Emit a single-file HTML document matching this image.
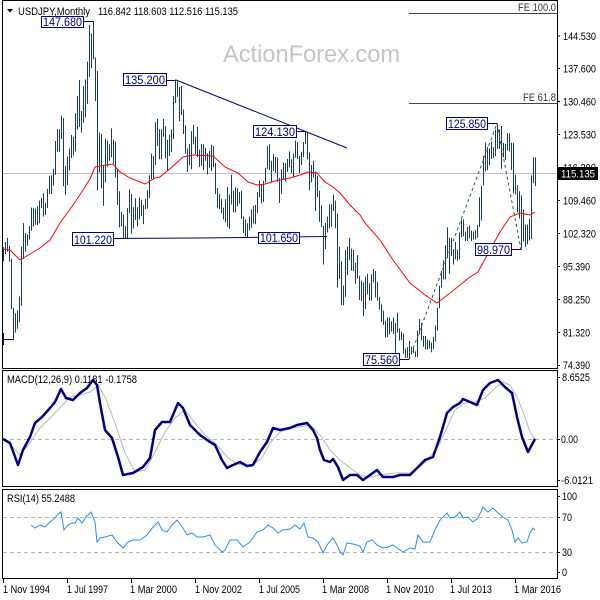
<!DOCTYPE html>
<html><head><meta charset="utf-8"><style>
html,body{margin:0;padding:0;background:#fff;}
svg{display:block;font-family:"Liberation Sans",sans-serif;}
</style></head><body>
<svg width="600" height="600" viewBox="0 0 600 600" xmlns="http://www.w3.org/2000/svg">
<rect x="0" y="0" width="600" height="600" fill="#fff"/>

<!-- watermark -->
<text x="223" y="62" font-size="24" fill="#c4c4c4" textLength="177" lengthAdjust="spacingAndGlyphs">ActionForex.com</text>

<!-- current price line -->
<line x1="3" y1="173.5" x2="557" y2="173.5" stroke="#c0c0c0" stroke-width="1"/>

<!-- FE lines -->
<line x1="409" y1="13.5" x2="557" y2="13.5" stroke="#2f4f4f" stroke-width="1"/>
<line x1="409" y1="103.5" x2="557" y2="103.5" stroke="#2f4f4f" stroke-width="1"/>
<text x="518" y="11" font-size="11" fill="#333" textLength="38" lengthAdjust="spacingAndGlyphs">FE 100.0</text>
<text x="523" y="101" font-size="11" fill="#333" textLength="33" lengthAdjust="spacingAndGlyphs">FE 61.8</text>

<!-- price bars -->
<g transform="matrix(1 0 0 -4.695 0.5 714.26)">
<path fill="none" stroke="#173f5a" stroke-width="1" vector-effect="non-scaling-stroke" d="M3 99.5V96.5M5 100.6V98M7 101.5V98.5M9 99.8V96.4M11 97V86.3M13 86.5V79.75M15 85.4V81.3M17 86V82.1M19 89V83.5M21 99.6V87M23 104.6V97M25 102.5V98.5M27 102.2V99.8M29 104V101.1M31 107.9V103M33 107.8V103.9M35 107.7V104.3M37 108.2V104.2M39 109.4V104.6M41 110V107.8M43 111V106M45 108.9V106.3M47 111.9V107.8M49 114.7V110.8M51 114.8V110.8M53 116.2V112.6M55 122.1V114.9M57 124.6V119.8M59 124.6V119.8M61 127.5V122.5M63 127V112.5M65 116.8V110.6M67 118.8V112.7M69 120.5V115.8M71 123.4V118.5M73 123V119M75 128V119.9M77 131.7V124.5M79 135.1V125.1M81 128.5V123.9M83 133.8V126M85 135.2V127.1M87 139V130M89 146.8V135.7M91 145V137.6M93 147.68V139.5M95 139.9V130.6M97 137V111.6M99 123.9V115.4M101 123.6V112M103 117V108.3M105 122.6V113.3M107 122.2V116.6M109 121.4V117.9M111 124.8V118.6M113 122.4V117.3M115 122V114.3M117 116.1V108.5M119 111.4V103.7M121 107V103.9M123 106.4V101.3M125 104V101.3M127 107.8V101.22M129 111.8V106.7M131 110.8V102.4M133 108V103.5M135 109.9V105.3M137 108V103.9M139 110.1V105.4M141 109.6V106.1M143 108.5V104.4M145 109.8V107.6M147 111.6V107.7M149 114.8V110M151 119.4V114M153 118.9V114M155 126.1V117M157 126.8V121M159 124.6V118.2M161 124.6V118.2M163 126.8V123M165 125.3V118.4M167 122.4V115.8M169 123.5V118.9M171 124.6V119.8M173 131.7V122.5M175 135.2V130.2M177 134.8V131.5M179 133.6V126.3M181 133.8V127.6M183 128.8V123.6M185 125.4V119.4M187 120.5V115.5M189 121.5V116.9M191 124.2V116.1M193 125.6V121.4M195 123V119.3M197 125.1V118.7M199 120.3V116.6M201 121.5V116.8M203 121.4V115.9M205 120.6V117.9M207 119.5V115M209 120V116.4M211 121.3V115.7M213 121V116.5M215 117.4V110.8M217 112.1V107.9M219 110.8V107.6M221 109.8V106.7M223 107.9V105.4M225 109.7V104.8M227 112.3V103.8M229 110.7V103.4M231 114.9V108.6M233 111.5V106.9M235 112.2V106.9M237 112V108.2M239 111.2V108.8M241 111.5V105.5M243 106V102.5M245 105.4V101.8M247 104.6V101.65M249 106V103.1M251 107.5V103.6M253 108.3V104.5M255 108.5V104.4M257 111.2V106.7M259 113.7V110.1M261 112.9V108.8M263 113.6V109.1M265 116.4V113.3M267 121V116.2M269 121.4V115.9M271 117.9V113.4M273 119.3V115.7M275 118.7V115.3M277 118.6V113.4M279 114.3V108.9M281 116.1V110.8M283 117.5V113.9M285 117.4V113.5M287 118.3V115.5M289 119.9V116.5M291 118.2V115.3M293 119.4V114.5M295 122.2V118.5M297 121.9V118.3M299 118.9V115.2M301 119.8V117M303 121.9V118.7M305 124.13V121.5M307 123.8V118.2M309 119.7V111.6M311 117V113.3M313 117.9V114.3M315 115.6V107.2M317 114.7V110.2M319 111.5V104.9M321 108.4V103.8M323 104V95.8M325 104.7V99.1M327 106V102.6M329 108.6V103.5M331 108.6V103.8M333 110.7V107.2M335 109.4V103.5M337 106.6V90.9M339 99.6V92.7M341 96.5V87.1M343 91.3V87.1M345 98.9V88.9M347 99.6V93.5M349 101.5V96.7M351 99.2V94.5M353 98.9V94.4M355 96.2V91.7M357 97.8V92.8M359 93.4V88.2M361 92.3V88M363 92V84.8M365 93.2V86.3M367 93.8V89.4M369 91.8V88.1M371 93.7V88.1M373 94.8V92M375 94.4V88.8M377 92.1V88.1M379 88.9V86.2M381 87.3V83.6M383 86V82.9M385 83.8V80.2M387 84.5V80.3M389 84.5V80.9M391 83.7V81.5M393 84.5V81M395 83.3V76.3M397 85.5V81.3M399 82.2V79.6M401 81.5V79.7M403 81.1V76.8M405 77.9V75.9M407 78.2V75.9M409 79.5V75.56M411 78.3V76.6M413 78.3V76.9M415 77.3V76.1M417 81.7V76.1M419 84.2V80.9M421 83.3V79.6M423 80.6V78.3M425 80.6V77.7M427 79.8V77.7M429 79.6V77.9M431 79.2V77.1M433 80.4V77.8M435 82.8V79.4M437 86.6V81.7M439 91.3V86.5M441 94.5V90.9M443 96.7V92.6M445 99.9V92.6M447 103.7V97.2M449 101.5V93.8M451 101.5V97.6M453 99.1V95.8M455 100.6V96.9M457 99V96.6M459 102.6V96.9M461 105.4V101.6M463 105.4V101.8M465 102.8V100.8M467 103.8V100.8M469 104.1V101.4M471 103V100.8M473 102.8V101.1M475 103.1V101.1M477 104.2V101.5M479 110.1V103.8M481 112.5V105.2M483 118.9V112.6M485 121.8V115.6M487 120.8V115.9M489 120.5V116.9M491 122V118.3M493 120.8V118.5M495 124.5V118.9M497 125.85V120.4M499 124.6V120.4M501 125.3V116.2M503 121.7V118.6M505 121.5V118.1M507 123.8V120.1M509 123.7V119.9M511 121.7V115.9M513 121.7V110.98M515 114.9V110.7M517 112.7V106.9M519 111.4V105.6M521 110.5V98.97M523 107.5V100.7M525 104.3V99.5M527 104.3V100.1M529 105.5V100.9M531 114.8V101.2M533 118.66V113.1M535 118.6V112.5"/>
</g>

<!-- moving average -->
<polyline fill="none" stroke="#ff0000" stroke-width="1" points="3,249 10,250 20,260 30,254 40,248 50,240 60,223 73,205 83,190 90,179 95,167 100,166 113,164 120,172 130,178 145,184 155,178 160,177 172,167 183,157 193,155 213,156 225,167 238,173 248,182 257,185 265,184 275,181 290,178 300,175 308,172 317,173 325,182 333,187 340,193 350,205 360,215 365,223 380,240 393,260 410,283 425,295 437,303 450,293 470,277 478,272 490,250 500,232 510,217 520,213 530,215 535,212"/>

<!-- fib dashed -->
<polyline fill="none" stroke="#2f4f4f" stroke-width="1" stroke-dasharray="3,3" points="409,359.5 497,123.5 521,249.5"/>

<!-- trendlines -->
<line x1="176" y1="80" x2="347" y2="148" stroke="#000080" stroke-width="1"/>
<polyline fill="none" stroke="#000080" stroke-width="1" points="113,238.5 200,238 327,236.5"/>
<line x1="3" y1="339.5" x2="13" y2="339.5" stroke="#000080" stroke-width="1"/>
<line x1="3.5" y1="333" x2="3.5" y2="345" stroke="#000080" stroke-width="1"/>

<!-- label connectors -->
<g stroke="#000080" stroke-width="1">
<line x1="83" y1="21.5" x2="93" y2="21.5"/>
<line x1="166" y1="80.5" x2="176" y2="80.5"/>
<line x1="296" y1="131.5" x2="305" y2="131.5"/>
<line x1="487" y1="123.5" x2="497" y2="123.5"/>
<line x1="511" y1="249.5" x2="521" y2="249.5"/>
<line x1="399" y1="359.5" x2="409" y2="359.5"/>
</g>

<!-- label boxes -->
<g fill="#fff" stroke="#000080" stroke-width="1">
<rect x="41.5" y="16.5" width="42" height="11"/>
<rect x="123.5" y="73.5" width="43" height="12"/>
<rect x="253.5" y="125.5" width="43" height="12"/>
<rect x="72.5" y="232.5" width="41" height="13"/>
<rect x="258.5" y="232.5" width="41" height="11"/>
<rect x="446.5" y="117.5" width="41" height="12"/>
<rect x="475.5" y="243.5" width="36" height="12"/>
<rect x="363.5" y="353.5" width="36" height="12"/>
</g>
<g fill="#000080" font-size="12">
<text x="43" y="26" textLength="39" lengthAdjust="spacingAndGlyphs">147.680</text>
<text x="125" y="84" textLength="40" lengthAdjust="spacingAndGlyphs">135.200</text>
<text x="255" y="136" textLength="40" lengthAdjust="spacingAndGlyphs">124.130</text>
<text x="74" y="244" textLength="38" lengthAdjust="spacingAndGlyphs">101.220</text>
<text x="260" y="242" textLength="38" lengthAdjust="spacingAndGlyphs">101.650</text>
<text x="448" y="128" textLength="38" lengthAdjust="spacingAndGlyphs">125.850</text>
<text x="477" y="254" textLength="33" lengthAdjust="spacingAndGlyphs">98.970</text>
<text x="365" y="364" textLength="33" lengthAdjust="spacingAndGlyphs">75.560</text>
</g>

<!-- header -->
<polygon points="7,9 13,9 10,12.5" fill="#000"/>
<text x="18" y="15" font-size="11" fill="#000" textLength="72" lengthAdjust="spacingAndGlyphs">USDJPY,Monthly</text>
<text x="98" y="15" font-size="11" fill="#000" textLength="140" lengthAdjust="spacingAndGlyphs">116.842 118.603 112.516 115.135</text>

<!-- MACD panel -->
<line x1="3" y1="439.5" x2="557" y2="439.5" stroke="#b4b4b4" stroke-width="1" stroke-dasharray="4,3"/>
<polyline fill="none" stroke="#b8b8b8" stroke-width="1" points="3,440 10,444 20,455 30,443 40,428 55,413 70,397 80,395 90,392 98,385 105,397 115,423 125,453 135,472 145,470 155,452 165,432 175,418 185,410 195,423 205,435 215,443 228,458 240,465 252,465 262,458 270,443 280,432 290,428 300,427 310,425 320,435 330,450 340,460 350,468 360,475 370,477 380,475 395,473 410,473 420,467 430,457 440,443 448,425 455,410 465,403 475,402 485,398 495,388 503,382 510,385 517,397 525,417 530,432 535,439"/>
<polyline fill="none" stroke="#000080" stroke-width="2.5" stroke-linejoin="round" points="3,439 10,443 18,465 23,450 30,437 35,423 42,417 50,408 55,402 61,389 66,398 73,400 80,393 87,388 93,380 97,385 100,403 105,430 112,438 118,457 123,475 133,473 143,467 150,458 155,430 162,422 170,422 178,403 183,408 190,425 200,435 210,442 215,445 222,460 227,468 233,465 240,462 247,466 253,465 260,452 267,442 273,428 280,430 290,428 297,425 307,423 313,430 317,438 320,450 324,460 330,462 333,459 338,467 343,480 350,475 357,475 363,480 370,475 377,470 383,477 393,477 400,475 410,475 417,468 425,460 433,457 440,437 447,413 453,407 460,403 463,399 470,402 477,405 483,390 490,383 498,380 505,387 512,393 517,417 522,437 528,452 535,439"/>
<text x="7" y="383" font-size="11" fill="#000" textLength="130" lengthAdjust="spacingAndGlyphs">MACD(12,26,9) 0.1181 -0.1758</text>

<!-- RSI panel -->
<line x1="3" y1="517.5" x2="557" y2="517.5" stroke="#b4b4b4" stroke-width="1" stroke-dasharray="4,3"/>
<line x1="3" y1="552.5" x2="557" y2="552.5" stroke="#b4b4b4" stroke-width="1" stroke-dasharray="4,3"/>
<polyline fill="none" stroke="#1e90ff" stroke-width="1" points="31,525 35,528 40,525 45,527 50,522 55,518 58,514 61,512 64,530 68,525 72,523 75,523 78,518 82,523 86,517 91,512 95,522 97,542 100,538 105,537 112,535 117,542 123,548 128,542 133,540 140,540 147,535 153,527 158,522 162,530 167,532 172,525 177,520 183,528 187,535 192,533 197,537 203,537 210,535 215,545 222,552 225,550 230,540 237,540 243,547 250,542 257,532 263,530 268,525 273,528 278,533 283,530 290,529 295,525 300,529 304,523 308,537 313,538 318,542 323,553 327,545 333,538 337,545 340,552 343,555 347,543 353,544 360,546 363,552 367,542 372,540 377,545 383,548 388,547 393,545 397,548 403,552 410,548 415,549 418,535 423,542 430,542 435,530 440,520 447,513 450,518 455,517 460,512 463,518 468,517 473,522 478,518 483,507 488,512 493,508 498,513 503,517 508,520 512,530 515,542 518,538 522,543 527,542 530,533 533,528 535,530"/>
<text x="7" y="502" font-size="11" fill="#000" textLength="68" lengthAdjust="spacingAndGlyphs">RSI(14) 55.2488</text>

<!-- frames -->
<g fill="none" stroke="#000" stroke-width="1">
<rect x="2.5" y="0.5" width="555" height="368"/>
<rect x="2.5" y="370.5" width="555" height="116"/>
<rect x="2.5" y="489.5" width="555" height="89"/>
</g>

<!-- right axis ticks -->
<g stroke="#000" stroke-width="1">
<line x1="557" y1="36" x2="560" y2="36"/>
<line x1="557" y1="68.5" x2="560" y2="68.5"/>
<line x1="557" y1="101.5" x2="560" y2="101.5"/>
<line x1="557" y1="134.5" x2="560" y2="134.5"/>
<line x1="557" y1="200.5" x2="560" y2="200.5"/>
<line x1="557" y1="233.5" x2="560" y2="233.5"/>
<line x1="557" y1="266.5" x2="560" y2="266.5"/>
<line x1="557" y1="299.5" x2="560" y2="299.5"/>
<line x1="557" y1="332.5" x2="560" y2="332.5"/>
<line x1="557" y1="365.5" x2="560" y2="365.5"/>
<line x1="557" y1="377.5" x2="560" y2="377.5"/>
<line x1="557" y1="439.5" x2="560" y2="439.5"/>
<line x1="557" y1="480.5" x2="560" y2="480.5"/>
<line x1="557" y1="496.5" x2="560" y2="496.5"/>
<line x1="557" y1="517.5" x2="560" y2="517.5"/>
<line x1="557" y1="552.5" x2="560" y2="552.5"/>
<line x1="557" y1="572.5" x2="560" y2="572.5"/>
<!-- date ticks -->
<line x1="3.5" y1="579" x2="3.5" y2="583"/>
<line x1="67.5" y1="579" x2="67.5" y2="583"/>
<line x1="131.5" y1="579" x2="131.5" y2="583"/>
<line x1="195.5" y1="579" x2="195.5" y2="583"/>
<line x1="259.5" y1="579" x2="259.5" y2="583"/>
<line x1="323.5" y1="579" x2="323.5" y2="583"/>
<line x1="387.5" y1="579" x2="387.5" y2="583"/>
<line x1="451.5" y1="579" x2="451.5" y2="583"/>
<line x1="515.5" y1="579" x2="515.5" y2="583"/>
</g>

<!-- right axis labels -->
<g font-size="11" fill="#000">
<text x="563" y="40" textLength="33" lengthAdjust="spacingAndGlyphs">144.530</text>
<text x="563" y="72.5" textLength="33" lengthAdjust="spacingAndGlyphs">137.600</text>
<text x="563" y="105.5" textLength="33" lengthAdjust="spacingAndGlyphs">130.460</text>
<text x="563" y="138.5" textLength="33" lengthAdjust="spacingAndGlyphs">123.530</text>
<text x="563" y="171.5" textLength="33" lengthAdjust="spacingAndGlyphs">116.390</text>
<text x="563" y="204.5" textLength="33" lengthAdjust="spacingAndGlyphs">109.460</text>
<text x="563" y="237.5" textLength="33" lengthAdjust="spacingAndGlyphs">102.320</text>
<text x="563" y="270.5" textLength="27" lengthAdjust="spacingAndGlyphs">95.390</text>
<text x="563" y="303.5" textLength="27" lengthAdjust="spacingAndGlyphs">88.250</text>
<text x="563" y="336.5" textLength="27" lengthAdjust="spacingAndGlyphs">81.320</text>
<text x="563" y="369" textLength="27" lengthAdjust="spacingAndGlyphs">74.390</text>
<text x="562" y="381" textLength="28" lengthAdjust="spacingAndGlyphs">8.6525</text>
<text x="561" y="443" textLength="17" lengthAdjust="spacingAndGlyphs">0.00</text>
<text x="561" y="484" textLength="32" lengthAdjust="spacingAndGlyphs">-6.0121</text>
<text x="562" y="500" textLength="15" lengthAdjust="spacingAndGlyphs">100</text>
<text x="562" y="521" textLength="10" lengthAdjust="spacingAndGlyphs">70</text>
<text x="562" y="556" textLength="10" lengthAdjust="spacingAndGlyphs">30</text>
<text x="562" y="576" textLength="5" lengthAdjust="spacingAndGlyphs">0</text>
</g>

<!-- current price box -->
<rect x="558" y="167" width="40" height="13" fill="#000"/>
<text x="561" y="177.5" font-size="11" fill="#fff" textLength="34" lengthAdjust="spacingAndGlyphs">115.135</text>

<!-- date labels -->
<g font-size="11" fill="#000">
<text x="3" y="593" textLength="47" lengthAdjust="spacingAndGlyphs">1 Nov 1994</text>
<text x="67" y="593" textLength="41" lengthAdjust="spacingAndGlyphs">1 Jul 1997</text>
<text x="130" y="593" textLength="47" lengthAdjust="spacingAndGlyphs">1 Mar 2000</text>
<text x="195" y="593" textLength="47" lengthAdjust="spacingAndGlyphs">1 Nov 2002</text>
<text x="259" y="593" textLength="41" lengthAdjust="spacingAndGlyphs">1 Jul 2005</text>
<text x="322" y="593" textLength="47" lengthAdjust="spacingAndGlyphs">1 Mar 2008</text>
<text x="386" y="593" textLength="48" lengthAdjust="spacingAndGlyphs">1 Nov 2010</text>
<text x="450" y="593" textLength="42" lengthAdjust="spacingAndGlyphs">1 Jul 2013</text>
<text x="514" y="593" textLength="47" lengthAdjust="spacingAndGlyphs">1 Mar 2016</text>
</g>
</svg>
</body></html>
